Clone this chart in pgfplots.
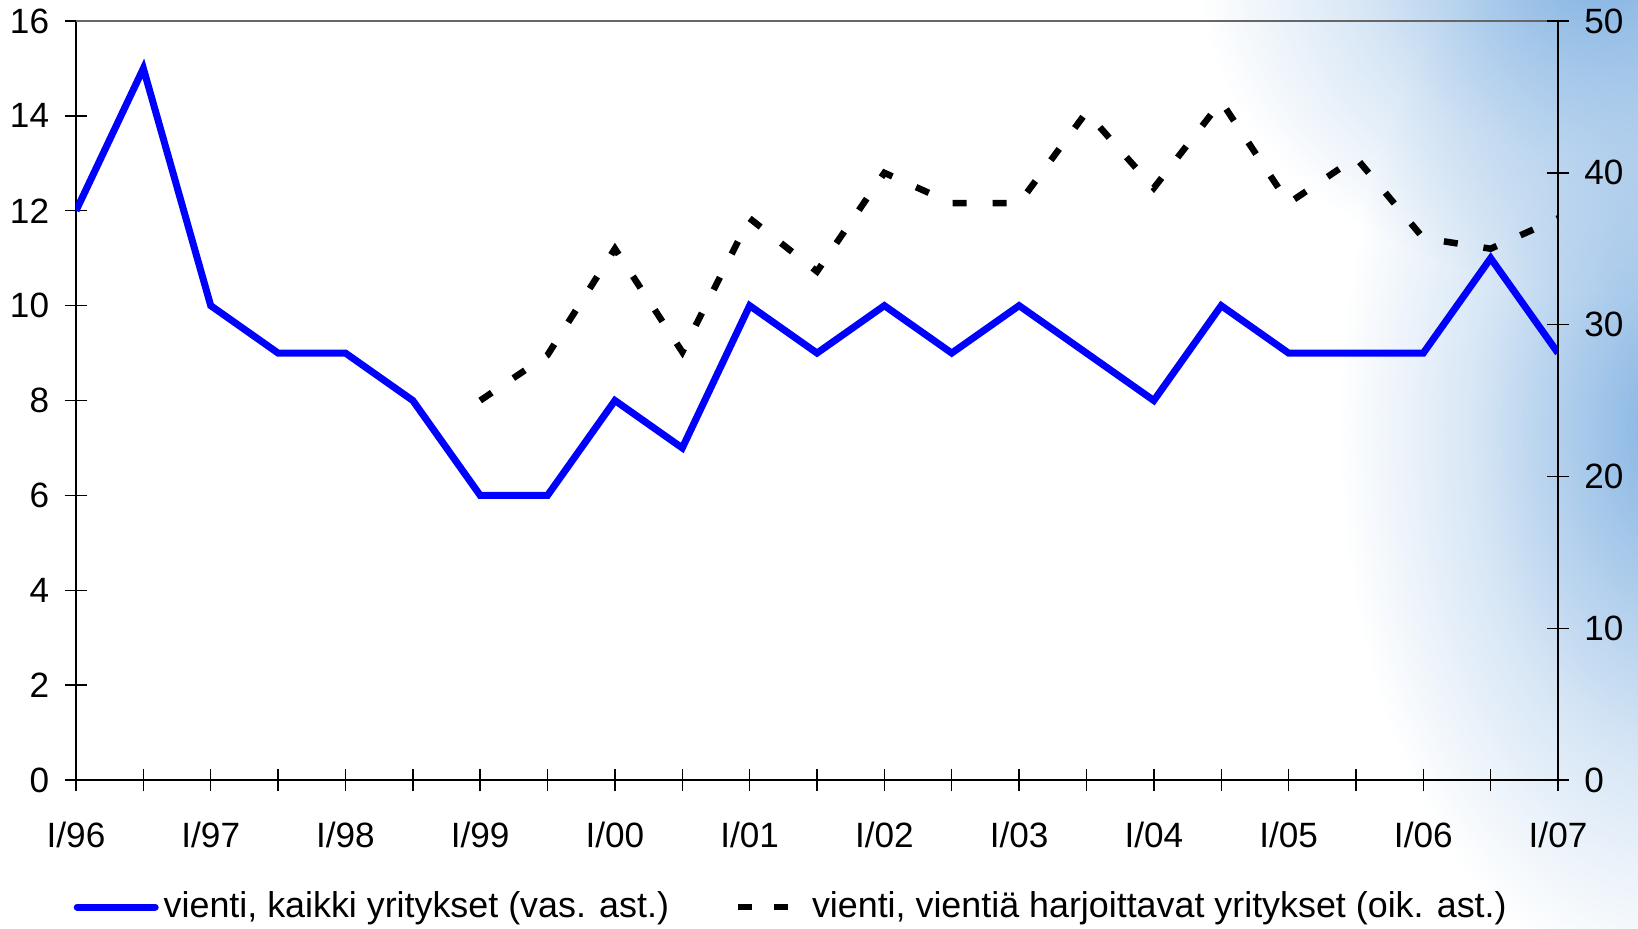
\documentclass[border=0pt]{standalone}
\usepackage{fontspec}
\setmainfont{Liberation Sans}
\usepackage{pgfplots}
\pgfplotsset{compat=1.18}
\usetikzlibrary{fadings}
\definecolor{bgblue}{RGB}{125,175,225}
\definecolor{lineblue}{RGB}{0,0,255}
\pgfdeclareradialshading{fadeshade}{\pgfpointorigin}{color(0bp)=(transparent!5); color(7bp)=(transparent!35); color(15bp)=(transparent!70); color(25bp)=(transparent!100); color(50bp)=(transparent!100)}
\pgfdeclarefading{softfade}{\pgfuseshading{fadeshade}}
\begin{document}
\begin{tikzpicture}[font=\fontsize{10}{12}\selectfont]
\path[use as bounding box] (0,0) rectangle (163.8mm,92.8mm);
\begin{scope}
\clip (0,0) rectangle (163.8mm,92.8mm);
\fill[white] (0,0) rectangle (163.8mm,92.8mm);
\fill[bgblue, path fading=softfade] (167mm,50mm) ellipse (33mm and 56mm);
\fill[bgblue, path fading=softfade] (160mm,96mm) ellipse (40mm and 32mm);
\end{scope}
\pgfplotsset{
  common/.style={
    at={(7.6mm,14.8mm)}, anchor=south west, scale only axis,
    width=148.2mm, height=75.9mm,
    xmin=0, xmax=22,
    tick align=center, major tick length=2.2mm,
    tick style={black, line width=0.4pt},
    axis line style={black, line width=0.6pt, -},
    /pgf/number format/assume math mode=true,
    tick label style={font=\fontsize{10}{12}\selectfont},
  }
}
\begin{axis}[common,
  ymin=0, ymax=16, ytick={0,2,...,16},
  axis x line*=bottom, axis y line*=left,
  xtick={0,...,22},
  xticklabels={I/96,,I/97,,I/98,,I/99,,I/00,,I/01,,I/02,,I/03,,I/04,,I/05,,I/06,,I/07},
  xticklabel style={yshift=-1.9mm},
  yticklabel style={xshift=-0.35mm},
  after end axis/.code={\draw[gray!80!black, line width=0.6pt] (rel axis cs:0,1) -- (rel axis cs:1,1);},
]
\addplot[lineblue, line width=0.7mm, line join=miter] coordinates {
(0,12) (1,15) (2,10) (3,9) (4,9) (5,8) (6,6) (7,6) (8,8) (9,7) (10,10) (11,9)
(12,10) (13,9) (14,10) (15,9) (16,8) (17,10) (18,9) (19,9) (20,9) (21,11) (22,9)
};
\end{axis}
\begin{axis}[common,
  ymin=0, ymax=50, ytick={0,10,...,50},
  axis y line*=right, axis x line=none,
  yticklabel style={xshift=0.3mm},
  legend columns=2,
  legend style={draw=none, fill=none, at={(rel axis cs:0,0)}, anchor=west,
    yshift=-12.7mm, xshift=-0.3mm, inner sep=0pt,
    font=\fontsize{10.2}{12}\selectfont,
    nodes={inner sep=0.5mm},
    /tikz/every even column/.append style={column sep=5.5mm}},
]
\addlegendimage{legend image code/.code={\draw[lineblue, line width=0.7mm, line cap=round] (0mm,0mm) -- (7.8mm,0mm);}}
\addlegendentry{vienti, kaikki yritykset (vas. ast.)}
\addplot[black, line width=0.65mm, dash pattern=on 1.4mm off 2.6mm,
  legend image code/.code={\path[draw=none] (-0.9mm,0mm) -- (6.9mm,0mm);
    \draw[black, line width=0.65mm, solid] (0mm,0mm) -- (1.4mm,0mm);
    \draw[black, line width=0.65mm, solid] (3.6mm,0mm) -- (5mm,0mm);}]
 coordinates {
(6,25) (7,28) (8,35) (9,28.2) (10,37) (11,33.5) (12,40) (13,38) (14,38)
(15,44) (16,39) (17,44.7) (18,38) (19,41) (20,35.7) (21,35) (22,37)
};
\addlegendentry{vienti, vientiä harjoittavat yritykset (oik. ast.)}
\end{axis}
\end{tikzpicture}
\end{document}
